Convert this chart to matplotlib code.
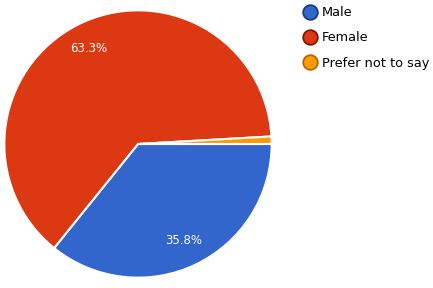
import matplotlib.pyplot as plt
from matplotlib.lines import Line2D

# data
labels = ["Male", "Female", "Prefer not to say"]
shares = [35.8, 63.3, 0.9]
colors = ["#3366CC", "#DC3912", "#FF9900"]
edge_colors = ["#1a3a80", "#7a1a05", "#b06a00"]

fig = plt.figure(figsize=(4.33, 2.88), dpi=100)
ax = fig.add_axes([3 / 433, 9 / 288, 270 / 433, 270 / 288])

def pct_fmt(p):
    return f"{p:.1f}%" if p > 5 else ""

wedges, texts, autotexts = ax.pie(
    shares, colors=colors, startangle=0, counterclock=False,
    autopct=pct_fmt, pctdistance=0.8,
    wedgeprops=dict(edgecolor="white", linewidth=1.5),
    textprops=dict(color="white", fontsize=8.5))
ax.set_xlim(-1.01, 1.01)
ax.set_ylim(-1.01, 1.01)
ax.set_aspect("equal")

# legend with round markers
handles = [Line2D([], [], marker="o", linestyle="", markersize=10.5,
                  markerfacecolor=c, markeredgecolor=e, markeredgewidth=1.3)
           for c, e in zip(colors, edge_colors)]
fig.legend(handles, labels, loc="upper left", bbox_to_anchor=(293 / 433, 1.01),
           frameon=False, fontsize=9.3, handletextpad=0.35,
           labelspacing=0.95, handlelength=1.2, borderpad=0.2)

fig.savefig("out.png", dpi=100)
